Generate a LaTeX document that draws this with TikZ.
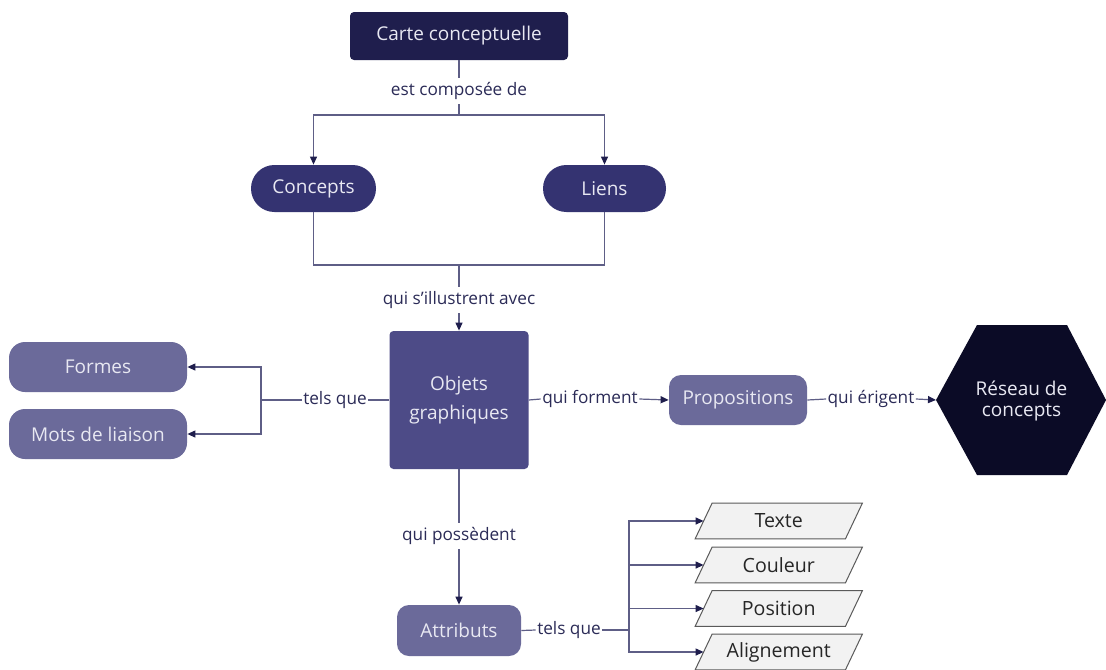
\documentclass[tikz,border=0pt]{standalone}
\usepackage{fontspec}
\setmainfont{Open Sans}
\usetikzlibrary{shapes.geometric,arrows.meta,backgrounds}
\definecolor{cA}{HTML}{1F1E4D}
\definecolor{cB}{HTML}{343371}
\definecolor{cC}{HTML}{4D4B87}
\definecolor{cD}{HTML}{6B6A9A}
\definecolor{cE}{HTML}{0B0B26}
\definecolor{linec}{HTML}{5E5E86}
\definecolor{tipc}{HTML}{1F1E4D}
\definecolor{labc}{HTML}{2B2B57}
\definecolor{boxtext}{HTML}{E8E8F2}
\definecolor{parafill}{HTML}{F2F2F2}
\definecolor{paradraw}{HTML}{5A5A5A}
\tikzset{
  box/.style={draw=none, text=boxtext, font=\fontsize{9.5}{11.5}\selectfont, align=center, inner sep=0pt},
  lab/.style={fill=white, text=labc, font=\fontsize{8.6}{10}\selectfont, inner sep=0.6pt},
  vlab/.style={lab, inner ysep=2pt},
  conn/.style={draw=linec, line width=0.6pt},
  arr/.style={conn, -{Triangle[length=4pt,width=3.5pt,color=tipc]}},
  paratext/.style={draw=none, minimum width=74.75pt, minimum height=17.5pt, inner sep=0pt,
    text=black!85, font=\fontsize{9.8}{11.5}\selectfont},
  parashape/.style={fill=parafill, draw=paradraw, line width=0.5pt}
}
\newcommand{\paraof}[1]{%
  \path[parashape] ([xshift=-4.25pt]#1.south west) -- ([xshift=4.25pt]#1.north west)
    -- ([xshift=4.25pt]#1.north east) -- ([xshift=-4.25pt]#1.south east) -- cycle;}
\begin{document}
\begin{tikzpicture}[x=0.5pt,y=-0.5pt]
\useasboundingbox (0,0) rectangle (1106,669);
% nodes
\node[box, fill=cA, minimum width=109pt, minimum height=24pt, rounded corners=2pt] (carte) at (459,36) {Carte conceptuelle};
\node[box, fill=cB, minimum width=62.5pt, minimum height=23.5pt, rounded corners=11.7pt] (concepts) at (313.5,188.5) {Concepts};
\node[box, fill=cB, minimum width=61.5pt, minimum height=23.5pt, rounded corners=11.7pt] (liens) at (604.5,188.5) {Liens};
\node[box, fill=cC, minimum width=69.5pt, minimum height=69pt, rounded corners=2pt, font=\fontsize{9.5}{14.5}\selectfont] (obj) at (459,400) {Objets\\graphiques};
\node[box, fill=cD, minimum width=89pt, minimum height=25pt, rounded corners=8pt] (formes) at (98,367) {Formes};
\node[box, fill=cD, minimum width=89pt, minimum height=25pt, rounded corners=8pt] (mots) at (98,434) {Mots de liaison};
\node[box, fill=cD, minimum width=69pt, minimum height=25pt, rounded corners=6pt] (prop) at (738,400) {Propositions};
\fill[cE] (936,400) -- (977,325) -- (1067,325) -- (1106,400) -- (1067,475) -- (977,475) -- cycle;
\node[box, font=\fontsize{9.5}{10.8}\selectfont] (reseau) at (1021.5,401) {Réseau de\\concepts};
\coordinate (hexw) at (936,400);
\node[box, fill=cD, minimum width=62pt, minimum height=25.5pt, rounded corners=6pt] (attr) at (459,630.5) {Attributs};
\node[paratext] (texte) at (778.75,521) {Texte};
\node[paratext] (couleur) at (778.75,565) {Couleur};
\node[paratext] (position) at (778.75,608.5) {Position};
\node[paratext] (align) at (778.75,652) {Alignement};
\begin{scope}[on background layer]
\fill[white] (0,0) rectangle (1106,669);
\paraof{texte}
\paraof{couleur}
\paraof{position}
\paraof{align}
\end{scope}
% labels
\node[vlab] (ecd) at (459,91) {est composée de};
\node[vlab] (qsa) at (459,300) {qui s’illustrent avec};
\node[lab] (tq1) at (335,400) {tels que};
\node[lab] (qf) at (590,399) {qui forment};
\node[lab] (qe) at (871,399) {qui érigent};
\node[vlab] (qp) at (459,536) {qui possèdent};
\node[lab] (tq2) at (569,630) {tels que};
% junctions
\coordinate (j1) at (459,115);
\coordinate (j3) at (459,265);
\coordinate (j4) at (261,400);
\coordinate (j5) at (629,630);
% connectors
\draw[conn] (carte.south) -- (ecd.north);
\draw[conn] (ecd.south) -- (j1);
\draw[arr] (j1) -| (concepts.north);
\draw[arr] (j1) -| (liens.north);
\draw[conn] (concepts.south) |- (j3);
\draw[conn] (liens.south) |- (j3);
\draw[conn] (j3) -- (qsa.north);
\draw[arr] (qsa.south) -- (obj.north);
\draw[conn] (obj.west) -- (tq1.east);
\draw[conn] (tq1.west) -- (j4);
\draw[arr] (j4) |- (formes.east);
\draw[arr] (j4) |- (mots.east);
\draw[conn] (obj.east) -- (qf.west);
\draw[arr] (qf.east) -- (prop.west);
\draw[conn] (prop.east) -- (qe.west);
\draw[arr] (qe.east) -- (hexw);
\draw[conn] (obj.south) -- (qp.north);
\draw[arr] (qp.south) -- (attr.north);
\draw[conn] (attr.east) -- (tq2.west);
\draw[conn] (tq2.east) -- (j5);
\draw[arr] (j5) |- (texte.west);
\draw[arr] (j5) |- (couleur.west);
\draw[arr] (j5) |- (position.west);
\draw[arr] (j5) |- (align.west);
\end{tikzpicture}
\end{document}
